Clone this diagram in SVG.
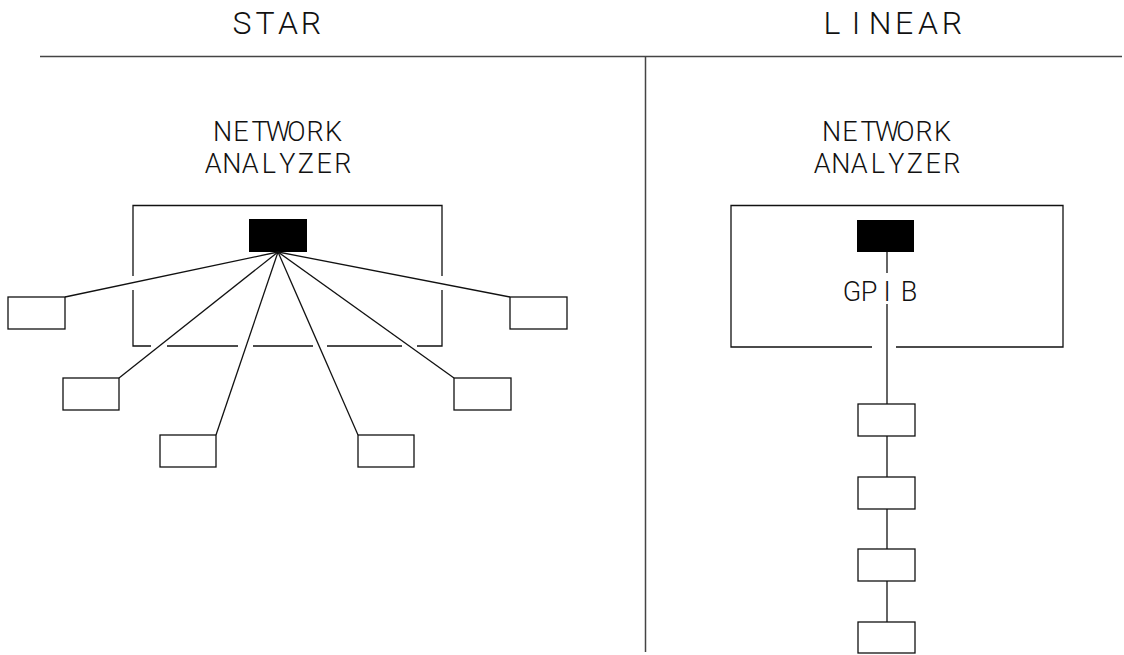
<svg xmlns="http://www.w3.org/2000/svg" width="1124" height="655" viewBox="0 0 1124 655">
<style>
  .ln { stroke: #111; stroke-width: 1.3; fill: none; }
  .frame { stroke: #444; stroke-width: 1.5; fill: none; }
  .dev { stroke: #111; stroke-width: 1.3; fill: #fff; }
  .port { fill: #000; stroke: none; }
  .t { font-family: Roboto, Lato, "Liberation Sans", sans-serif; font-weight: 300; fill: #111; text-anchor: middle; }
  .h { font-size: 32px; }
  .s { font-size: 27px; }
</style>
<rect width="1124" height="655" fill="#fff"/>

<g id="frame">
  <line class="frame" x1="40" y1="56.5" x2="1122" y2="56.5"/>
  <line class="frame" x1="645.5" y1="56.5" x2="645.5" y2="652"/>
  <text class="t h" x="242 265 288 311" y="34">STAR</text>
  <text class="t h" x="832 856 880 904 928 952" y="34">LINEAR</text>
</g>

<!-- STAR side -->
<g id="star-analyzer">
  <path class="ln" d="M133,276 V205.5 H442 V276 M442,290 V346 H417 M402,346 H327 M313,346 H253 M238,346 H167 M151,346 H133 V290"/>
  <rect class="port" x="249" y="219" width="58" height="33"/>
  <text class="t s" x="222.5 241 259.5 278 296.5 315 333.5" y="141">NETWORK</text>
  <text class="t s" x="213.25 231.75 250.25 268.75 287.25 305.75 324.25 342.75" y="173">ANALYZER</text>
</g>
<g id="star-dev1"><rect class="dev" x="8" y="297" width="57" height="32"/></g>
<g id="star-dev2"><rect class="dev" x="63" y="378" width="56" height="32"/></g>
<g id="star-dev3"><rect class="dev" x="160" y="435" width="56" height="32"/></g>
<g id="star-dev4"><rect class="dev" x="358" y="435" width="56" height="32"/></g>
<g id="star-dev5"><rect class="dev" x="454" y="378" width="57" height="32"/></g>
<g id="star-dev6"><rect class="dev" x="510" y="297" width="57" height="32"/></g>

<!-- LINEAR side -->
<g id="linear-analyzer">
  <path class="ln" d="M872,347 H731 V205.5 H1063 V347 H896"/>
  <rect class="port" x="857" y="220" width="57" height="32"/>
  <text class="t s" x="831.5 850 868.5 887 905.5 924 942.5" y="141">NETWORK</text>
  <text class="t s" x="822.25 840.75 859.25 877.75 896.25 914.75 933.25 951.75" y="173">ANALYZER</text>
  <text class="t s" x="852 869 887 909" y="301">GPIB</text>
</g>
<g id="lin-dev1"><rect class="dev" x="858" y="404" width="57" height="32"/></g>
<g id="lin-dev2"><rect class="dev" x="858" y="477" width="57" height="32"/></g>
<g id="lin-dev3"><rect class="dev" x="858" y="549" width="57" height="32"/></g>
<g id="lin-dev4"><rect class="dev" x="858" y="622" width="57" height="31"/></g>

<g id="connectors">
  <line class="ln" x1="278" y1="252" x2="65" y2="297"/>
  <line class="ln" x1="278" y1="252" x2="119" y2="378"/>
  <line class="ln" x1="278" y1="252" x2="216" y2="435"/>
  <line class="ln" x1="278" y1="252" x2="358" y2="435"/>
  <line class="ln" x1="278" y1="252" x2="454" y2="378"/>
  <line class="ln" x1="278" y1="252" x2="510" y2="297"/>
  <line class="ln" x1="887" y1="252" x2="887" y2="273"/>
  <line class="ln" x1="887" y1="304" x2="887" y2="404"/>
  <line class="ln" x1="887" y1="436" x2="887" y2="477"/>
  <line class="ln" x1="887" y1="509" x2="887" y2="549"/>
  <line class="ln" x1="887" y1="581" x2="887" y2="622"/>
</g>
</svg>
